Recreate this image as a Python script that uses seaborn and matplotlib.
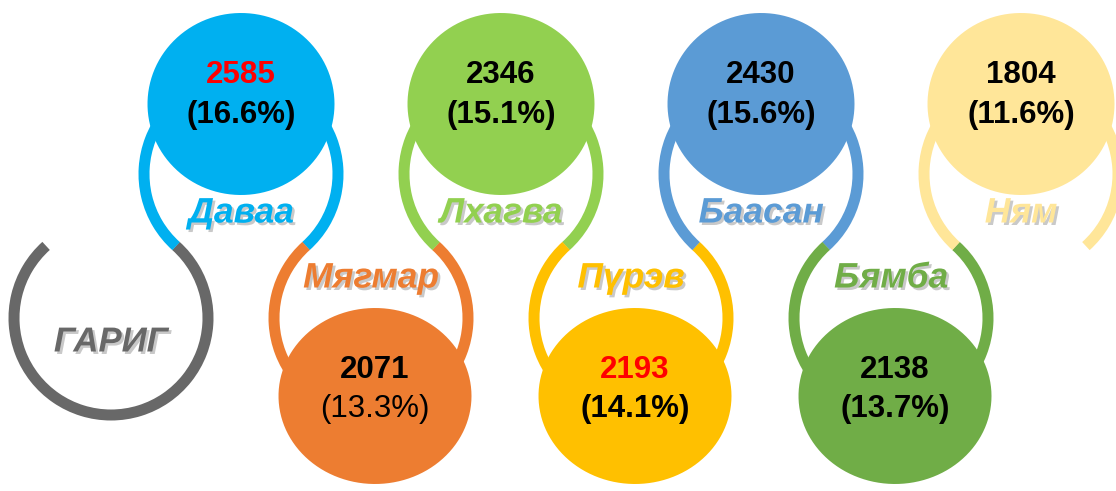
import numpy as np
import pandas as pd
import matplotlib
matplotlib.use("Agg")
import matplotlib.pyplot as plt
import seaborn as sns
from matplotlib.patches import Arc
from matplotlib.path import Path
from matplotlib.markers import MarkerStyle
import matplotlib.patheffects as pe

# ---- data ----
title = "ГАРИГ"
days = ["Даваа", "Мягмар", "Лхагва", "Пүрэв", "Баасан", "Бямба", "Ням"]
values = [2585, 2071, 2346, 2193, 2430, 2138, 1804]
pcts = ["16.6%", "13.3%", "15.1%", "14.1%", "15.6%", "13.7%", "11.6%"]
highlight = [True, False, False, True, False, False, False]
colors = ["#00B0F0", "#ED7D31", "#92D050", "#FFC000", "#5B9BD5", "#70AD47", "#FFE699"]
title_color = "#686868"

# ---- layout ----
W, H, DPI = 1116, 491, 100
x0, dx = 111, 130          # ring centre spacing
y_top, y_bot = 174, 318    # ring centre rows
R = 97                     # ring radius (centre line)
ring_lw = 11 * 72 / DPI
blob_top = dict(dy=-70, w=187, h=182)
blob_bot = dict(dy=78, w=193, h=176)

sns.set_theme(style="white")
plt.rcParams["font.family"] = ["Liberation Sans", "DejaVu Sans"]

fig = plt.figure(figsize=(W / DPI, H / DPI), dpi=DPI)
ax = fig.add_axes([0, 0, 1, 1])
ax.set_xlim(0, W)
ax.set_ylim(H, 0)
ax.set_axis_off()

shadow = [pe.withSimplePatchShadow(offset=(1.8, -1.8), shadow_rgbFace="#666666", alpha=0.35)]

# title ring (bottom row, index 0)
ax.add_patch(Arc((x0, y_bot), 2 * R, 2 * R, theta1=-48, theta2=228,
                 color=title_color, lw=ring_lw, zorder=2))
ax.text(x0, y_bot + 24, title, ha="center", va="center", fontsize=25,
        fontweight="bold", fontstyle="italic", color=title_color,
        path_effects=shadow, zorder=5)

rows = []
for i, day in enumerate(days):
    top = (i % 2 == 0)
    cx = x0 + dx * (i + 1)
    cy = y_top if top else y_bot
    if top:
        ax.add_patch(Arc((cx, cy), 2 * R, 2 * R, theta1=132, theta2=48,
                         color=colors[i], lw=ring_lw, zorder=2))
    else:
        ax.add_patch(Arc((cx, cy), 2 * R, 2 * R, theta1=-48, theta2=228,
                         color=colors[i], lw=ring_lw, zorder=2))
    b = blob_top if top else blob_bot
    rows.append(dict(day=day, x=cx + (0 if top else 4), y=cy + b["dy"],
                     w=b["w"], h=b["h"], top=top))

df = pd.DataFrame(rows)

def ellipse_marker(w, h):
    t = np.linspace(0, 2 * np.pi, 120)
    verts = np.column_stack([np.cos(t), (h / w) * np.sin(t)])
    return MarkerStyle(Path(verts, closed=True))

pal = dict(zip(days, colors))
for top, sub in df.groupby("top"):
    w, h = sub["w"].iloc[0], sub["h"].iloc[0]
    sns.scatterplot(data=sub, x="x", y="y", hue="day", palette=pal,
                    marker=ellipse_marker(w, h), s=(w * 72 / DPI) ** 2,
                    linewidth=0, legend=False, ax=ax, zorder=3)

ax.set_xlim(0, W)
ax.set_ylim(H, 0)
ax.set_axis_off()

for i, r in df.iterrows():
    top = r["top"]
    cx = x0 + dx * (i + 1)
    vy, py = (75, 115) if top else (370, 409)
    ly = 213 if top else 278
    ax.text(cx, ly, r["day"], ha="center", va="center", fontsize=25.5,
            fontweight="bold", fontstyle="italic", color=colors[i],
            path_effects=shadow, zorder=5)
    ax.text(r["x"], vy, f"{values[i]}", ha="center", va="center", fontsize=22.5,
            fontweight="bold", color="#FF0000" if highlight[i] else "black", zorder=5)
    ax.text(r["x"], py, f"({pcts[i]})", ha="center", va="center", fontsize=22.5,
            fontweight="normal" if i == 1 else "bold", color="black", zorder=5)

fig.savefig("out.png", dpi=DPI)
